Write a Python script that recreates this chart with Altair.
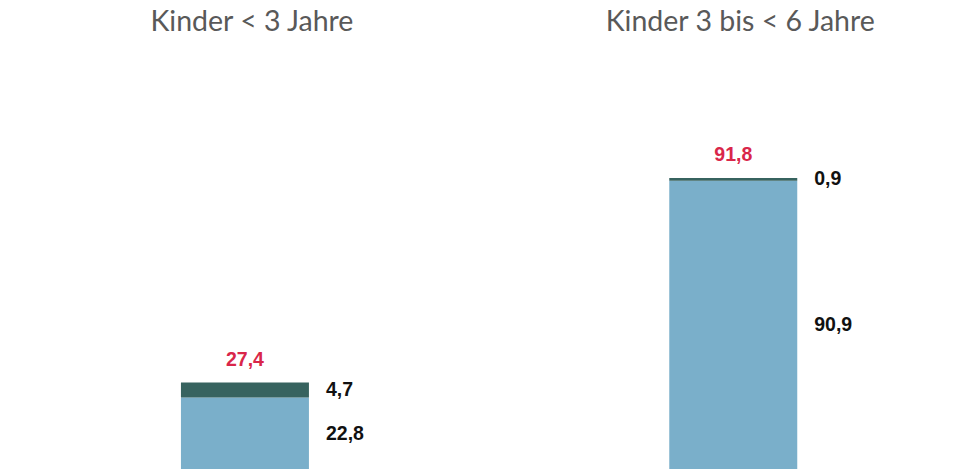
import altair as alt
import pandas as pd

categories = ["Kinder < 3 Jahre", "Kinder 3 bis < 6 Jahre"]
light_values = [22.8, 90.9]
dark_values = [4.7, 0.9]
totals = [27.4, 91.8]

rows = []
for c, l, d, t in zip(categories, light_values, dark_values, totals):
    rows.append({"cat": c, "seg": "a", "lo": 0.0, "hi": l, "mid": l / 2, "val": l, "label": f"{l:.1f}".replace(".", ","), "total": t})
    rows.append({"cat": c, "seg": "b", "lo": l, "hi": l + d, "mid": l + d / 2, "val": d, "label": f"{d:.1f}".replace(".", ","), "total": t})
df = pd.DataFrame(rows)
tot_df = pd.DataFrame({"cat": categories, "total": totals,
                       "tlabel": [f"{t:.1f}".replace(".", ",") for t in totals]})

xscale = alt.Scale(domain=categories, paddingInner=0.7379, paddingOuter=0.3683, range=[1.1, 977.1])
yscale = alt.Scale(domain=[0, 147.75], nice=False, zero=True)
X = alt.X("cat:N", scale=xscale, axis=None, sort=categories)

base = alt.Chart(df)

bars = base.mark_bar(strokeWidth=0).encode(
    x=X,
    y=alt.Y("lo:Q", scale=yscale, axis=None),
    y2="hi:Q",
    color=alt.Color("seg:N", scale=alt.Scale(domain=["a", "b"], range=["#7aafca", "#37635f"]), legend=None),
)

seg_labels = base.mark_text(align="left", baseline="middle", dx=81, fontSize=19.5,
                            fontWeight="bold", font="Liberation Sans", color="#111111").encode(
    x=X,
    y=alt.Y("mid:Q", scale=yscale, axis=None),
    text="label:N",
)

tot = alt.Chart(tot_df)
tot_labels = tot.mark_text(align="center", baseline="alphabetic", dy=-17, fontSize=19.5,
                           fontWeight="bold", font="Liberation Sans", color="#d9264a").encode(
    x=X,
    y=alt.Y("total:Q", scale=yscale, axis=None),
    text="tlabel:N",
)

titles = tot.mark_text(align="center", baseline="middle", dx=7, fontSize=28.5,
                       font="Lato", color="#595959").encode(
    x=X,
    y=alt.value(22),
    text="cat:N",
)

chart = alt.layer(bars, seg_labels, tot_labels, titles).properties(
    width=976, height=470, padding=0, autosize="none",
    background="white",
).configure_view(stroke=None)

chart.save("out.html", embed_options={"renderer": "svg", "actions": False})
